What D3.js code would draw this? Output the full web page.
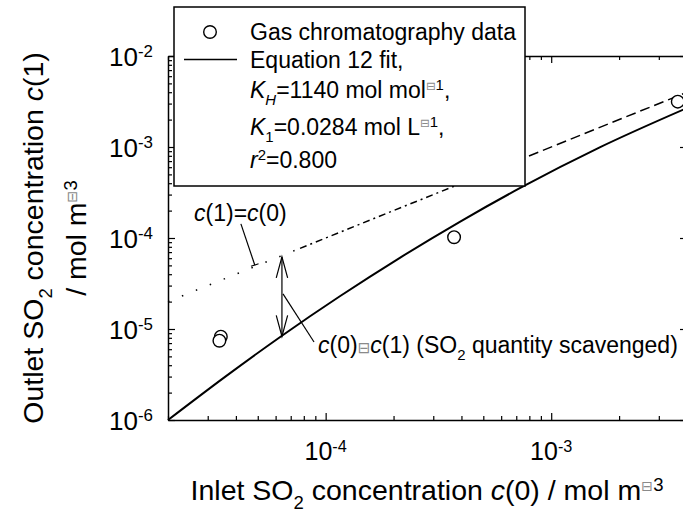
<!DOCTYPE html>
<html>
<head>
<meta charset="utf-8">
<script src="https://cdnjs.cloudflare.com/ajax/libs/d3/7.8.5/d3.min.js"></script>
<style>
  body { margin: 0; background: #fff; }
  svg { display: block; font-family: "Liberation Sans", Arial, sans-serif; }
</style>
</head>
<body>
<script>
// gas chromatography points: inlet c(0) and outlet c(1), mol m-3
var gcInlet  = [3.43e-5, 3.38e-5, 3.71e-4, 3.64e-3];
var gcOutlet = [8.23e-6, 7.44e-6, 1.02e-4, 3.15e-3];

// equation 12 fit
var fitInlet  = [2e-5, 3.58e-5, 6.4e-5, 1.156e-4, 2.133e-4, 3.934e-4, 7.256e-4, 1.641e-3, 4e-3];
var fitOutlet = [1e-6, 2.98e-6, 8.44e-6, 2.29e-5, 6.06e-5, 1.507e-4, 3.526e-4, 9.9e-4, 2.68e-3];

// c(1)=c(0) line, cut where its dash style changes
var equalBreaks = [2e-5, 7.7e-5, 6e-4, 4e-3];

var xDomain = [2e-5, 4e-3];
var yDomain = [1e-6, 1e-2];
var xMajor = [1e-4, 1e-3];
var xExp = ["-4", "-3"];
var yMajor = [1e-6, 1e-5, 1e-4, 1e-3, 1e-2];
var yExp = ["-6", "-5", "-4", "-3", "-2"];

// scavenged-quantity arrow and label pointers (data coords)
var arrowAt = 6.4e-5;
var arrowEnds = [6.2e-5, 8.3e-6];
var pointer1 = [[4.21e-5, 1.43e-4], [4.85e-5, 5.05e-5]];
var pointer2 = [[6.47e-5, 2.43e-5], [8.88e-5, 7.19e-6]];
var label1At = [2.61e-5, 1.54e-4];
var label2At = [9.25e-5, 5.44e-6];

var width = 683, height = 521;

var x = d3.scaleLog().domain(xDomain).range([168, 687]);
var y = d3.scaleLog().domain(yDomain).range([420, 56]);

var svg = d3.select("body").append("svg")
    .attr("width", width)
    .attr("height", height);

function isMajor(v) {
  var l = Math.log10(v);
  return Math.abs(l - Math.round(l)) < 1e-6;
}

// text with italic / sub / sup / missing-glyph box pieces
function rich(sel, parts, size) {
  var off = 0;
  parts.forEach(function(p) {
    var s = (p[1] || "").split(" ");
    var has = function(k) { return s.indexOf(k) >= 0; };
    var target = has("sub") ? size * 0.3 : has("sup") ? -size * 0.33 : 0;
    var ts = sel.append("tspan").text(p[0]).attr("dy", target - off);
    off = target;
    if (has("sub") || has("sup")) ts.attr("font-size", size * 0.65);
    if (has("i")) ts.attr("font-style", "italic");
    if (has("box")) {
      ts.attr("font-family", "DejaVu Sans").attr("fill", "#8a8a8a")
        .attr("font-size", has("sup") ? size * 0.5 : size * 0.66);
    }
  });
  return sel;
}

function frame(g, axis) {
  g.call(axis.tickSizeOuter(0).tickFormat(""));
  g.select(".domain").attr("stroke", "#000").attr("stroke-width", 1.5);
  g.selectAll(".tick line").attr("stroke", "#000").attr("stroke-width", 1.2)
    .each(function(d) {
      if (isMajor(d)) return;
      var ln = d3.select(this);
      ["x2", "y2"].forEach(function(a) {
        var v = +ln.attr(a);
        if (v) ln.attr(a, v * 4 / 7);
      });
    });
}

svg.append("g").attr("transform", "translate(0,420)")
  .call(frame, d3.axisBottom(x).tickValues(x.ticks()).tickSize(-7));
svg.append("g").attr("transform", "translate(0,56)")
  .call(frame, d3.axisTop(x).tickValues(x.ticks()).tickSize(-7));
svg.append("g").attr("transform", "translate(168,0)")
  .call(frame, d3.axisLeft(y).tickValues(y.ticks()).tickSize(-7));
svg.append("g").attr("transform", "translate(687,0)")
  .call(frame, d3.axisRight(y).tickValues(y.ticks()).tickSize(-7));

// tick labels
xMajor.forEach(function(v, i) {
  rich(svg.append("text").attr("x", x(v)).attr("y", 460)
    .attr("text-anchor", "middle").attr("font-size", 25),
    [["10"], [xExp[i], "sup"]], 25);
});
yMajor.forEach(function(v, i) {
  rich(svg.append("text").attr("x", 153).attr("y", y(v) + 9.5)
    .attr("text-anchor", "end").attr("font-size", 26),
    [["10"], [yExp[i], "sup"]], 26);
});

// axis titles
rich(svg.append("text").attr("x", 427).attr("y", 500)
  .attr("text-anchor", "middle").attr("font-size", 28.5),
  [["Inlet SO"], ["2", "sub"], [" concentration "], ["c", "i"], ["(0) / mol m"], ["\u229F", "sup box"], ["3", "sup"]], 28.5);

rich(svg.append("text").attr("transform", "translate(43,238) rotate(-90)")
  .attr("text-anchor", "middle").attr("font-size", 28.5),
  [["Outlet SO"], ["2", "sub"], [" concentration "], ["c", "i"], ["(1)"]], 28.5);
rich(svg.append("text").attr("transform", "translate(86,238) rotate(-90)")
  .attr("text-anchor", "middle").attr("font-size", 28.5),
  [["/ mol m"], ["\u229F", "sup box"], ["3", "sup"]], 28.5);

// c(1)=c(0) line
var dashes = ["1.5,13.5", "7,4,2,4", "10,5"];
for (var i = 0; i < equalBreaks.length - 1; i++) {
  svg.append("line")
    .attr("x1", x(equalBreaks[i])).attr("y1", y(equalBreaks[i]))
    .attr("x2", x(equalBreaks[i + 1])).attr("y2", y(equalBreaks[i + 1]))
    .attr("stroke", "#000").attr("stroke-width", 1.5)
    .attr("stroke-dasharray", dashes[i]);
}

// fit curve
var fitLine = d3.line()
  .x(function(d) { return x(d[0]); })
  .y(function(d) { return y(d[1]); })
  .curve(d3.curveMonotoneX);
svg.append("path")
  .attr("d", fitLine(d3.zip(fitInlet, fitOutlet)))
  .attr("fill", "none").attr("stroke", "#000").attr("stroke-width", 2);

// double arrow
var ax = x(arrowAt), yTop = y(arrowEnds[0]), yBot = y(arrowEnds[1]);
var ann = svg.append("g").attr("fill", "none").attr("stroke", "#000").attr("stroke-width", 1.2);
ann.append("line").attr("x1", ax).attr("x2", ax).attr("y1", yTop).attr("y2", yBot);
ann.append("path").attr("d", "M" + (ax - 5.7) + "," + (yTop + 21) + "L" + ax + "," + yTop + "L" + (ax + 5.7) + "," + (yTop + 21));
ann.append("path").attr("d", "M" + (ax - 5.7) + "," + (yBot - 21) + "L" + ax + "," + yBot + "L" + (ax + 5.7) + "," + (yBot - 21));

// pointers
[pointer1, pointer2].forEach(function(p) {
  ann.append("line")
    .attr("x1", x(p[0][0])).attr("y1", y(p[0][1]))
    .attr("x2", x(p[1][0])).attr("y2", y(p[1][1]));
});
var ex = x(pointer1[1][0]), ey = y(pointer1[1][1]);
var dx = ex - x(pointer1[0][0]), dy = ey - y(pointer1[0][1]);
var len = Math.sqrt(dx * dx + dy * dy);
var nx = dy / len * 4, ny = -dx / len * 4;
ann.append("line").attr("x1", ex - nx).attr("y1", ey - ny).attr("x2", ex + nx).attr("y2", ey + ny);

rich(svg.append("text").attr("x", x(label1At[0])).attr("y", y(label1At[1])).attr("font-size", 23),
  [["c", "i"], ["(1)="], ["c", "i"], ["(0)"]], 23);
rich(svg.append("text").attr("x", x(label2At[0])).attr("y", y(label2At[1])).attr("font-size", 23),
  [["c", "i"], ["(0)"], ["\u229F", "box"], ["c", "i"], ["(1) (SO"], ["2", "sub"], [" quantity scavenged)"]], 23);

// data points
svg.selectAll(".gc")
  .data(d3.zip(gcInlet, gcOutlet))
  .enter()
  .append("circle")
    .attr("class", "gc")
    .attr("cx", function(d) { return x(d[0]); })
    .attr("cy", function(d) { return y(d[1]); })
    .attr("r", 6.3)
    .attr("fill", "#fff").attr("stroke", "#000").attr("stroke-width", 1.4);

// legend
var lg = svg.append("g");
lg.append("rect").attr("x", 174).attr("y", 7).attr("width", 351).attr("height", 179)
  .attr("fill", "#fff").attr("stroke", "#000").attr("stroke-width", 1.5);
lg.append("circle").attr("cx", 210).attr("cy", 32).attr("r", 6.3)
  .attr("fill", "#fff").attr("stroke", "#000").attr("stroke-width", 1.4);
lg.append("line").attr("x1", 184).attr("x2", 237).attr("y1", 59.5).attr("y2", 59.5)
  .attr("stroke", "#000").attr("stroke-width", 1.5);

var legendRows = [
  [["Gas chromatography data"]],
  [["Equation 12 fit,"]],
  [["K", "i"], ["H", "sub i"], ["=1140 mol mol"], ["\u229F", "sup box"], ["1", "sup"], [","]],
  [["K", "i"], ["1", "sub"], ["=0.0284 mol L"], ["\u229F", "sup box"], ["1", "sup"], [","]],
  [["r", "i"], ["2", "sup"], ["=0.800"]]
];
var legendBase = [40, 67.5, 98, 135, 168];
legendRows.forEach(function(row, i) {
  rich(lg.append("text").attr("x", 250).attr("y", legendBase[i]).attr("font-size", 23), row, 23);
});
</script>
</body>
</html>
